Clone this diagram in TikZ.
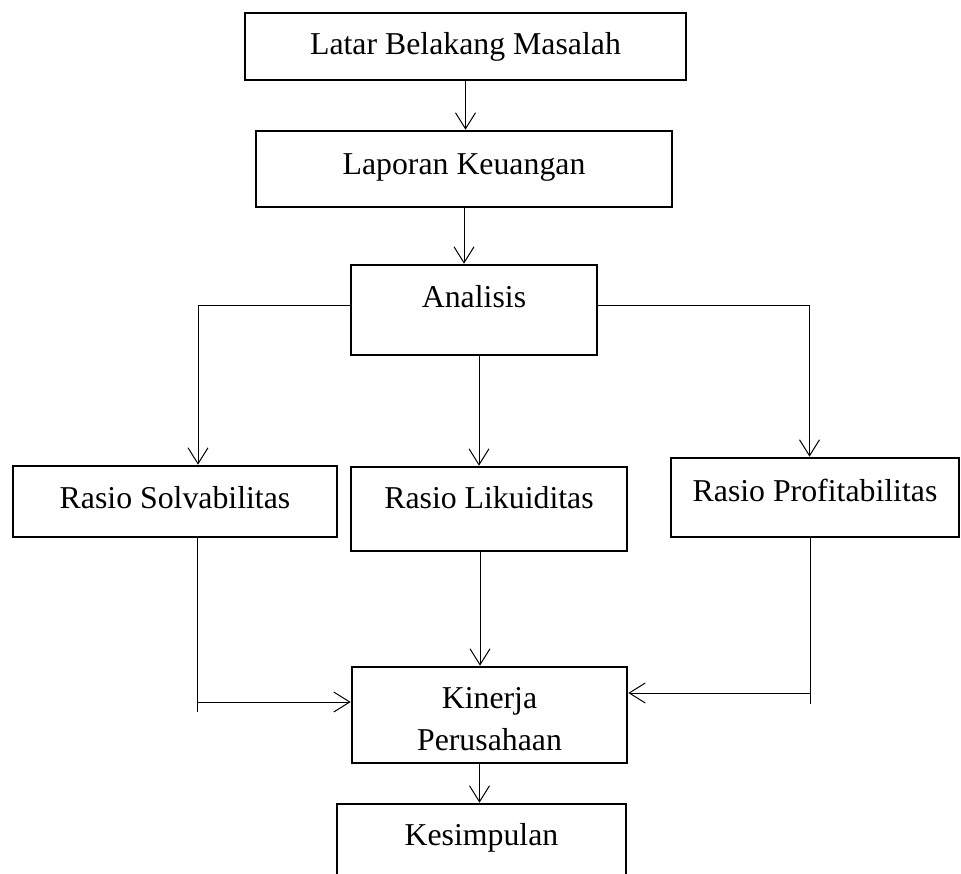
\documentclass[tikz,border=0pt]{standalone}
\usepackage{fontspec}
\setmainfont{Liberation Serif}
\usetikzlibrary{arrows.meta,positioning,calc}

\begin{document}
\begin{tikzpicture}[x=1pt,y=-1pt,
    box/.style 2 args={draw,line width=2.6pt,inner xsep=0pt,inner ysep=0pt,
      text height=#1,text depth=#2,anchor=base,
      font=\fontsize{31.8}{42}\selectfont},
    arr/.style={-{Straight Barb[length=16pt,width=20pt]},line width=1pt},
    lin/.style={line width=1pt}]
    \useasboundingbox (0,0) rectangle (961,874);
    % boxes
    \node[box={42pt}{25pt},minimum width=441pt] (lat) at (465.5,55) {Latar Belakang Masalah};
    \node[box={44pt}{32pt},minimum width=416pt] (lap) at (464,175) {Laporan Keuangan};
    \node[box={43pt}{47pt},minimum width=246pt] (ana) at (474,308) {Analisis};
    \node[box={42pt}{29pt},minimum width=324pt] (sol) at (175,508) {Rasio Solvabilitas};
    \node[box={41pt}{43pt},minimum width=276pt] (lik) at (489,508) {Rasio Likuiditas};
    \node[box={43pt}{36pt},minimum width=288pt] (prof) at (815,501) {Rasio Profitabilitas};
    \node[box={83pt}{13pt},minimum width=275pt,align=center] (kin) at (489.5,750) {Kinerja\\Perusahaan};
    \node[box={41pt}{35pt},minimum width=289pt] (kes) at (481.5,845) {Kesimpulan};
    % joints
    \coordinate (sE) at (197,712);
    \coordinate (sJ) at (197,702);
    \coordinate (pE) at (810,704);
    \coordinate (pJ) at (810,693);
    % connectors
    \draw[arr] (lat.south) -- (lat.south |- lap.north);
    \draw[arr] (lap.south) -- (lap.south |- ana.north);
    \draw[arr] (ana.mid west) -| ([xshift=23pt]sol.north);
    \draw[arr] (ana.mid east) -| ([xshift=-5.5pt]prof.north);
    \draw[arr] ([xshift=5pt]ana.south) -- ([xshift=5pt]ana.south |- lik.north);
    \draw[lin] (sol.south -| sE) -- (sE);
    \draw[arr] (sJ) -- (sJ -| kin.west);
    \draw[arr] ([xshift=-9pt]lik.south) -- ([xshift=-9pt]lik.south |- kin.north);
    \draw[lin] (prof.south -| pE) -- (pE);
    \draw[arr] (pJ) -- (pJ -| kin.east);
    \draw[arr] ([xshift=-10pt]kin.south) -- ([xshift=-10pt]kin.south |- kes.north);
\end{tikzpicture}
\end{document}
